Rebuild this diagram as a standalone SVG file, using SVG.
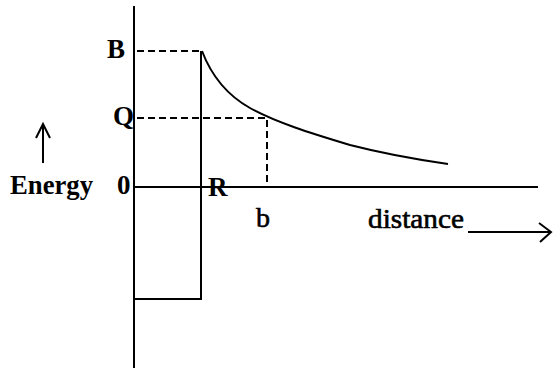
<svg xmlns="http://www.w3.org/2000/svg" width="553" height="368" viewBox="0 0 553 368">
<style>
.ln{stroke:#000;stroke-width:2;fill:none}
.dash{stroke:#000;stroke-width:2;fill:none;stroke-dasharray:7 4}
.lbl{font-family:"Liberation Serif","Times New Roman",serif;font-weight:bold;font-size:27px;fill:#000}
.reg{font-family:"Liberation Serif","Times New Roman",serif;font-size:28px;fill:#000;stroke:#000;stroke-width:0.6}
</style>
<rect width="553" height="368" fill="#fff"/>
<g id="axes">
<line class="ln" x1="134" y1="6" x2="134" y2="368"/>
<line class="ln" x1="134" y1="187" x2="538" y2="187" stroke-width="2.5"/>
</g>
<g id="well">
<polyline class="ln" points="134,299 201,299 201,51"/>
</g>
<g id="curve">
<path class="ln" stroke-width="2.5" d="M202,51 C210,72 225,94 250,108 C275,122 310,133 350,145 C385,154 420,160 448,164"/>
</g>
<g id="guides">
<line class="dash" x1="137" y1="51" x2="200" y2="51"/>
<line class="dash" x1="137" y1="118" x2="267" y2="118"/>
<line class="dash" x1="267" y1="120" x2="267" y2="186"/>
</g>
<g id="energy-arrow">
<line class="ln" x1="43" y1="124" x2="43" y2="163"/>
<polyline class="ln" points="36,138 43,124 50,138"/>
</g>
<g id="distance-arrow">
<line class="ln" x1="468" y1="232" x2="550" y2="232" stroke-width="2.5"/>
<polyline class="ln" stroke-width="2.5" points="539,223 551,232 540,242"/>
</g>
<g id="labels">
<text class="lbl" x="10" y="194" textLength="83" lengthAdjust="spacingAndGlyphs">Energy</text>
<text class="lbl" x="117" y="194">0</text>
<text class="lbl" x="107" y="58">B</text>
<text class="lbl" x="113" y="125">Q</text>
<text class="lbl" x="208" y="196">R</text>
<text class="reg" x="256" y="227">b</text>
<text class="reg" x="368" y="228" textLength="96" lengthAdjust="spacingAndGlyphs">distance</text>
</g>
</svg>
